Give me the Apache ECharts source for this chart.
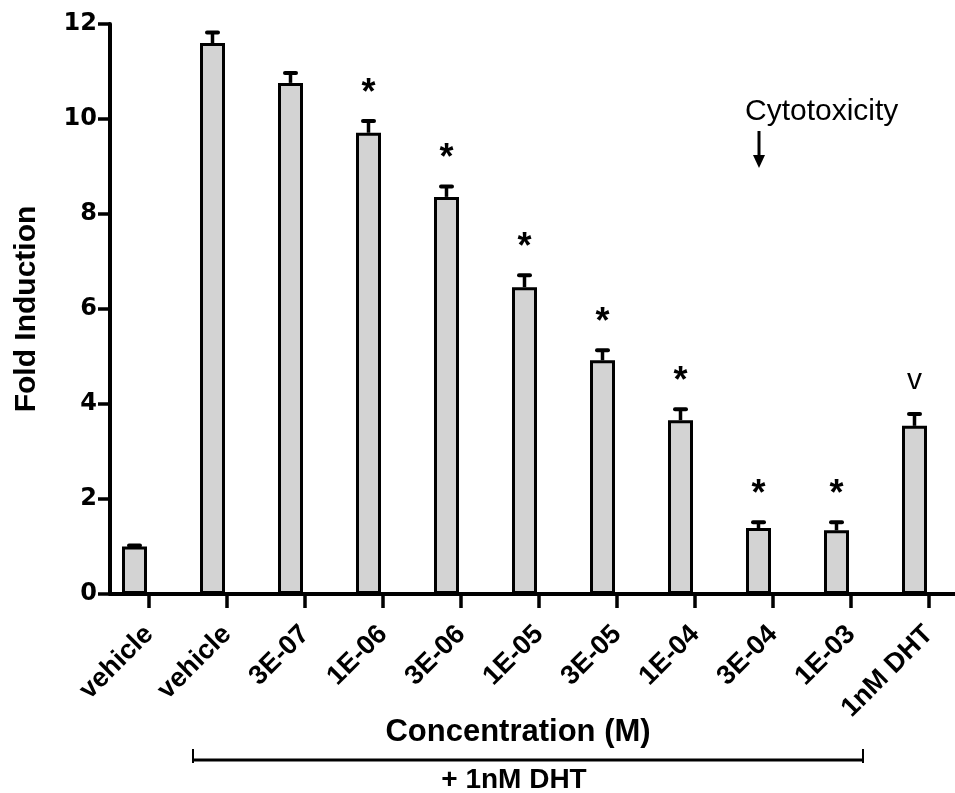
<!DOCTYPE html>
<html>
<head>
<meta charset="utf-8">
<script src="https://cdn.jsdelivr.net/npm/echarts@6/dist/echarts.min.js"></script>
<style>
  html, body { margin: 0; padding: 0; background: #fff; }
  #chart { width: 955px; height: 793px; }
</style>
</head>
<body>
<div id="chart"></div>
<script>
// ---- data ----
const categories = ['vehicle', 'vehicle', '3E-07', '1E-06', '3E-06', '1E-05', '3E-05', '1E-04', '3E-04', '1E-03', '1nM DHT'];
const foldInduction = [1.00, 11.60, 10.76, 9.71, 8.36, 6.46, 4.92, 3.66, 1.39, 1.34, 3.54];
const errorSEM = [0.02, 0.22, 0.21, 0.25, 0.22, 0.25, 0.21, 0.23, 0.12, 0.17, 0.25];
const significance = ['', '', '', '*', '*', '*', '*', '*', '*', '*', 'v'];
const yTicks = { min: 0, max: 12, interval: 2 };

// ---- style constants ----
const BAR_SHIFT = -14.5; // bar centre sits left of the category tick
const boldSans = '"Liberation Sans", Arial, sans-serif';

const chart = echarts.init(document.getElementById('chart'), null, { renderer: 'canvas' });

const errData = foldInduction.map((v, i) => [i, v, errorSEM[i], significance[i]]);

const option = {
  backgroundColor: '#ffffff',
  animation: false,
  grid: { left: 110, top: 24, width: 858, height: 570, containLabel: false, outerBoundsMode: 'none' },
  xAxis: {
    type: 'category',
    data: categories,
    boundaryGap: true,
    axisLine: { show: true, lineStyle: { color: '#000', width: 4 } },
    axisTick: { show: true, alignWithLabel: true, length: 14, lineStyle: { color: '#000', width: 3.5 } },
    axisLabel: {
      interval: 0, rotate: 45, margin: 36, color: '#000',
      fontFamily: boldSans, fontWeight: 'bold', fontSize: 27
    },
    splitLine: { show: false }
  },
  yAxis: {
    type: 'value',
    min: yTicks.min, max: yTicks.max, interval: yTicks.interval,
    name: 'Fold Induction',
    nameLocation: 'middle',
    nameRotate: 90,
    nameGap: 68,
    nameTextStyle: { color: '#000', fontFamily: boldSans, fontWeight: 'bold', fontSize: 30 },
    axisLine: { show: true, lineStyle: { color: '#000', width: 4 } },
    axisTick: { show: true, length: 12, lineStyle: { color: '#000', width: 3.5 } },
    axisLabel: { margin: 13, color: '#000', fontFamily: '"DejaVu Sans", sans-serif', fontWeight: 'bold', fontSize: 24 },
    splitLine: { show: false }
  },
  series: [
    {
      type: 'bar',
      name: 'Fold Induction',
      data: foldInduction,
      barWidth: 25,
      barGap: '16%',
      itemStyle: { color: '#d3d3d3', borderColor: '#000', borderWidth: 3 },
      z: 2
    },
    {
      type: 'bar',
      name: 'spacer',
      data: [],
      barWidth: 25,
      silent: true
    },
    {
      type: 'custom',
      name: 'SEM',
      data: errData,
      encode: { x: 0, y: 1 },
      z: 3,
      renderItem: function (params, api) {
        const i = api.value(0);
        const v = api.value(1);
        const e = api.value(2);
        const note = significance[params.dataIndex];
        const base = api.coord([i, v]);
        const top = api.coord([i, v + e]);
        const x = base[0] + BAR_SHIFT;
        const children = [
          { type: 'line', shape: { x1: x, y1: base[1], x2: x, y2: top[1] }, style: { stroke: '#000', lineWidth: 3.5 } },
          { type: 'line', shape: { x1: x - 5.5, y1: top[1], x2: x + 5.5, y2: top[1] }, style: { stroke: '#000', lineWidth: 4, lineCap: 'round' } }
        ];
        if (note) {
          const isStar = note === '*';
          children.push({
            type: 'text',
            style: {
              text: note, x: x, y: top[1] - (isStar ? 27 : 33),
              align: 'center', verticalAlign: 'middle',
              font: isStar ? 'bold 36px "Liberation Sans", Arial, sans-serif' : '30px "Liberation Sans", Arial, sans-serif',
              fill: '#000'
            }
          });
        }
        return { type: 'group', children: children };
      }
    }
  ],
  graphic: [
    { type: 'text', x: 745, y: 112, style: { text: 'Cytotoxicity', font: '30px "Liberation Sans", Arial, sans-serif', fill: '#000', align: 'left', verticalAlign: 'middle' } },
    { type: 'line', shape: { x1: 759, y1: 131, x2: 759, y2: 158 }, style: { stroke: '#000', lineWidth: 3 } },
    { type: 'polygon', shape: { points: [[753, 155], [765, 155], [759, 168]] }, style: { fill: '#000' } },
    { type: 'text', x: 518, y: 732, style: { text: 'Concentration (M)', font: 'bold 31px "Liberation Sans", Arial, sans-serif', fill: '#000', align: 'center', verticalAlign: 'middle' } },
    { type: 'line', shape: { x1: 193, y1: 760, x2: 863, y2: 760 }, style: { stroke: '#000', lineWidth: 3 } },
    { type: 'line', shape: { x1: 193, y1: 749, x2: 193, y2: 763 }, style: { stroke: '#000', lineWidth: 2 } },
    { type: 'line', shape: { x1: 863, y1: 749, x2: 863, y2: 763 }, style: { stroke: '#000', lineWidth: 2 } },
    { type: 'text', x: 514, y: 780, style: { text: '+ 1nM DHT', font: 'bold 28px "Liberation Sans", Arial, sans-serif', fill: '#000', align: 'center', verticalAlign: 'middle' } }
  ]
};

chart.setOption(option);
</script>
</body>
</html>
